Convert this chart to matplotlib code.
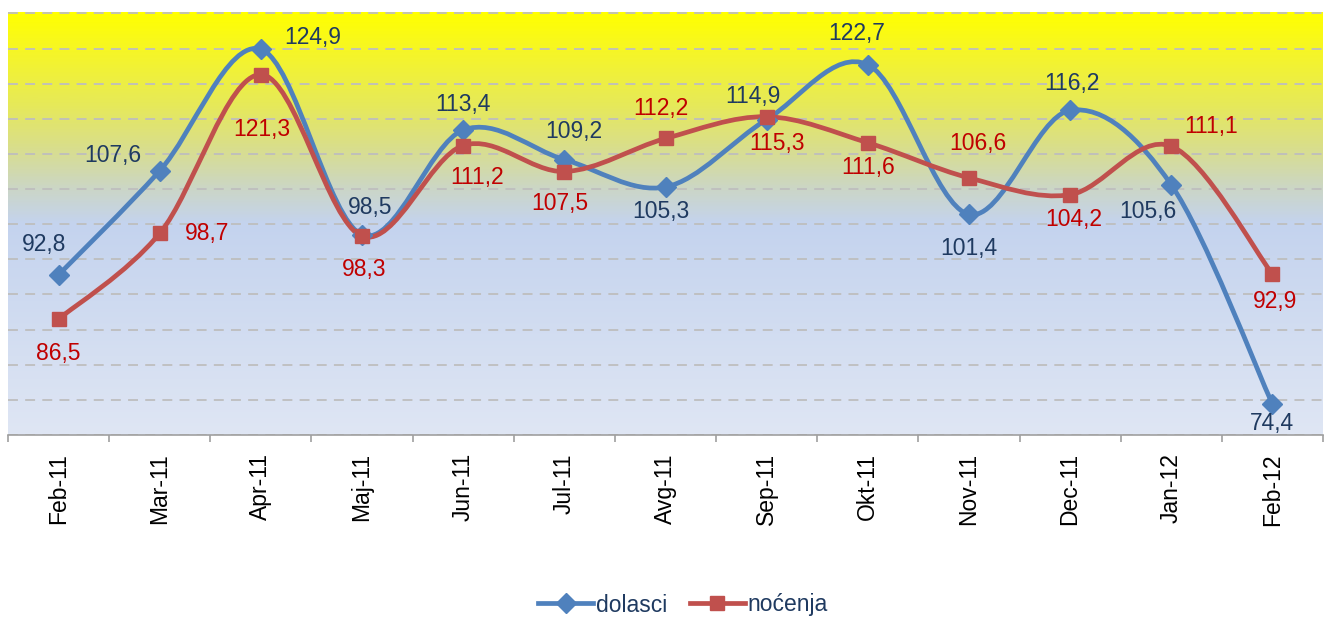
import numpy as np
import matplotlib
matplotlib.use("Agg")
import matplotlib.pyplot as plt
from matplotlib.path import Path
from matplotlib.patches import PathPatch
from matplotlib.colors import LinearSegmentedColormap
from matplotlib.lines import Line2D

plt.rcParams["font.family"] = ["Liberation Sans", "DejaVu Sans"]

# data
months = ["Feb-11", "Mar-11", "Apr-11", "Maj-11", "Jun-11", "Jul-11", "Avg-11",
          "Sep-11", "Okt-11", "Nov-11", "Dec-11", "Jan-12", "Feb-12"]
dolasci = [92.8, 107.6, 124.9, 98.5, 113.4, 109.2, 105.3, 114.9, 122.7, 101.4, 116.2, 105.6, 74.4]
nocenja = [86.5, 98.7, 121.3, 98.3, 111.2, 107.5, 112.2, 115.3, 111.6, 106.6, 104.2, 111.1, 92.9]

# label offsets in pixels (dx, dy), y up
off_dolasci = [(-15, 30), (-47, 15), (52, 12), (8, 27), (0, 26), (9, 28), (-5, -25),
               (-14, 23), (-11, 31), (0, -34), (2, 27), (-23, -27), (0, -19)]
off_nocenja = [(0, -34), (47, 0), (1, -55), (2, -33), (14, -32), (-5, -32), (-5, 30),
               (10, -27), (0, -25), (9, 34), (4, -25), (40, 20), (3, -27)]

BLUE = "#4F81BD"
RED = "#C0504D"
BLUE_TXT = "#1F3A60"
RED_TXT = "#C00000"
FS = 16.5


def smooth_path(xs, ys):
    """Excel-like smoothed line as cubic bezier path"""
    pts = np.column_stack([xs, ys]).astype(float)
    n = len(pts)
    verts = [pts[0]]
    codes = [Path.MOVETO]
    for i in range(n - 1):
        p0 = pts[max(i - 1, 0)]
        p1 = pts[i]
        p2 = pts[i + 1]
        p3 = pts[min(i + 2, n - 1)]
        verts += [p1 + (p2 - p0) / 6, p2 - (p3 - p1) / 6, p2]
        codes += [Path.CURVE4] * 3
    return Path(verts, codes)


fig = plt.figure(figsize=(13.25, 6.18), dpi=100)
ax = fig.add_axes([8 / 1325, 1 - 435 / 618, 1315 / 1325, 423 / 618])

x = np.arange(len(months))
ax.set_xlim(-0.5, len(months) - 0.5)
ax.set_ylim(70, 130.2)

# gradient background
cmap = LinearSegmentedColormap.from_list("bg", [
    (0.0, "#DFE6F4"), (0.5, "#C4D3EE"), (0.58, "#CBD6C8"), (0.68, "#D9DE8C"),
    (0.78, "#E6E95A"), (0.9, "#F5F52A"), (1.0, "#FFFF00")])
grad = np.linspace(0, 1, 400).reshape(-1, 1)
ax.imshow(grad, cmap=cmap, origin="lower", aspect="auto",
          extent=[-0.5, len(months) - 0.5, 70, 130.2], zorder=0, interpolation="bilinear")

ax.set_yticks(np.arange(70, 131, 5))
ax.yaxis.grid(True, color="#BEBEBE", linewidth=1.3, linestyle=(0, (5.5, 4)), zorder=1)
ax.tick_params(axis="y", left=False, labelleft=False)

for s in ["left", "right", "top"]:
    ax.spines[s].set_visible(False)
ax.spines["bottom"].set_color("#A0A0A0")
ax.spines["bottom"].set_linewidth(1.2)

ax.set_xticks(x)
ax.set_xticklabels(months, rotation=90, fontsize=FS)
ax.set_xticks(np.arange(-0.5, len(months)), minor=True)
ax.tick_params(axis="x", which="major", length=0, pad=13)
ax.tick_params(axis="x", which="minor", length=5, color="#A0A0A0", width=1.2)

for ys, col, mk, ms in [(dolasci, BLUE, "D", 10), (nocenja, RED, "s", 10)]:
    ax.add_patch(PathPatch(smooth_path(x, ys), facecolor="none", edgecolor=col,
                           linewidth=3.4, capstyle="round", joinstyle="round", zorder=3))
    ax.plot(x, ys, linestyle="none", marker=mk, markersize=ms, color=col, zorder=4)

for ys, offs, col in [(dolasci, off_dolasci, BLUE_TXT), (nocenja, off_nocenja, RED_TXT)]:
    for xi, v, (dx, dy) in zip(x, ys, offs):
        ax.annotate(f"{v:.1f}".replace(".", ","), (xi, v), xytext=(dx, dy),
                    textcoords="offset pixels", ha="center", va="center",
                    fontsize=FS, color=col, zorder=5, annotation_clip=False)

handles = [Line2D([], [], color=BLUE, lw=3.4, marker="D", markersize=10),
           Line2D([], [], color=RED, lw=3.4, marker="s", markersize=10)]
fig.legend(handles, ["dolasci", "noćenja"], loc="center", bbox_to_anchor=(683 / 1325, 1 - 605 / 618),
           ncol=2, frameon=False, fontsize=FS, handlelength=2.4, handletextpad=0.1,
           columnspacing=1.0, labelcolor=BLUE_TXT)

fig.savefig("out.png", dpi=100)
